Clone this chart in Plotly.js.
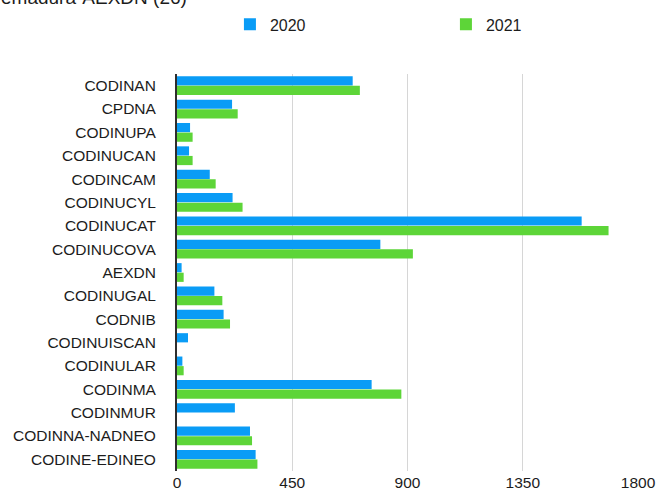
<!DOCTYPE html>
<html>
<head>
<meta charset="utf-8">
<script src="https://cdn.plot.ly/plotly-3.0.1.min.js"></script>
<style>
  html, body { margin: 0; padding: 0; background: #ffffff; }
  #chart { width: 656px; height: 495px; }
</style>
</head>
<body>
<div id="chart"></div>
<script>
const categories = ['CODINAN','CPDNA','CODINUPA','CODINUCAN','CODINCAM','CODINUCYL','CODINUCAT','CODINUCOVA','AEXDN','CODINUGAL','CODNIB','CODINUISCAN','CODINULAR','CODINMA','CODINMUR','CODINNA-NADNEO','CODINE-EDINEO'];
const values2020 = [686, 215, 51, 47, 128, 217, 1580, 794, 18, 146, 182, 43, 21, 760, 226, 285, 307];
const values2021 = [714, 237, 61, 61, 151, 256, 1685, 921, 26, 177, 207, null, 26, 876, null, 293, 314];
const seriesNames = ['2020', '2021'];
const xTicks = [0, 450, 900, 1350, 1800];
const headerText = 'emadura-AEXDN (26)';

const FONT = 'Liberation Sans, Arial, Helvetica, sans-serif';

const traces = [
  { type: 'bar', orientation: 'h', name: seriesNames[0], y: categories, x: values2020,
    marker: { color: '#0a9cf6' }, hoverinfo: 'x+y' },
  { type: 'bar', orientation: 'h', name: seriesNames[1], y: categories, x: values2021,
    marker: { color: '#5dd538' }, hoverinfo: 'x+y' }
];

const layout = {
  width: 656, height: 495,
  margin: { l: 177, r: 18, t: 74, b: 24, pad: 0 },
  paper_bgcolor: '#ffffff', plot_bgcolor: '#ffffff',
  font: { family: FONT, size: 15.5, color: '#1c1c1c' },
  barmode: 'group', bargap: 0.18, bargroupgap: 0.04,
  showlegend: true,
  legend: {
    orientation: 'h', xref: 'container', yref: 'container',
    x: 0.3505, xanchor: 'left', y: 0.985, yanchor: 'top',
    entrywidth: 171, entrywidthmode: 'pixels',
    font: { family: FONT, size: 16, color: '#1c1c1c' },
    bgcolor: 'rgba(0,0,0,0)'
  },
  xaxis: {
    range: [0, 1800], tickvals: xTicks, ticktext: xTicks.map(String),
    showgrid: true, gridcolor: '#d6d6d6', gridwidth: 1,
    zeroline: false, showline: false, ticks: '', fixedrange: true,
    tickfont: { family: FONT, size: 15.5, color: '#1c1c1c' }
  },
  yaxis: {
    type: 'category', categoryorder: 'array', categoryarray: categories,
    autorange: 'reversed', showgrid: false, zeroline: false,
    showline: true, linecolor: '#2e2e2e', linewidth: 2,
    ticks: '', ticklabelstandoff: 16, fixedrange: true,
    tickfont: { family: FONT, size: 15.5, color: '#1c1c1c' }
  },
  annotations: [{
    text: headerText, xref: 'paper', yref: 'paper',
    x: -0.386, xanchor: 'left', y: 1.162, yanchor: 'bottom',
    showarrow: false, font: { family: FONT, size: 19, color: '#1c1c1c' }
  }]
};

Plotly.newPlot('chart', traces, layout, { displayModeBar: false, staticPlot: true });
</script>
</body>
</html>
